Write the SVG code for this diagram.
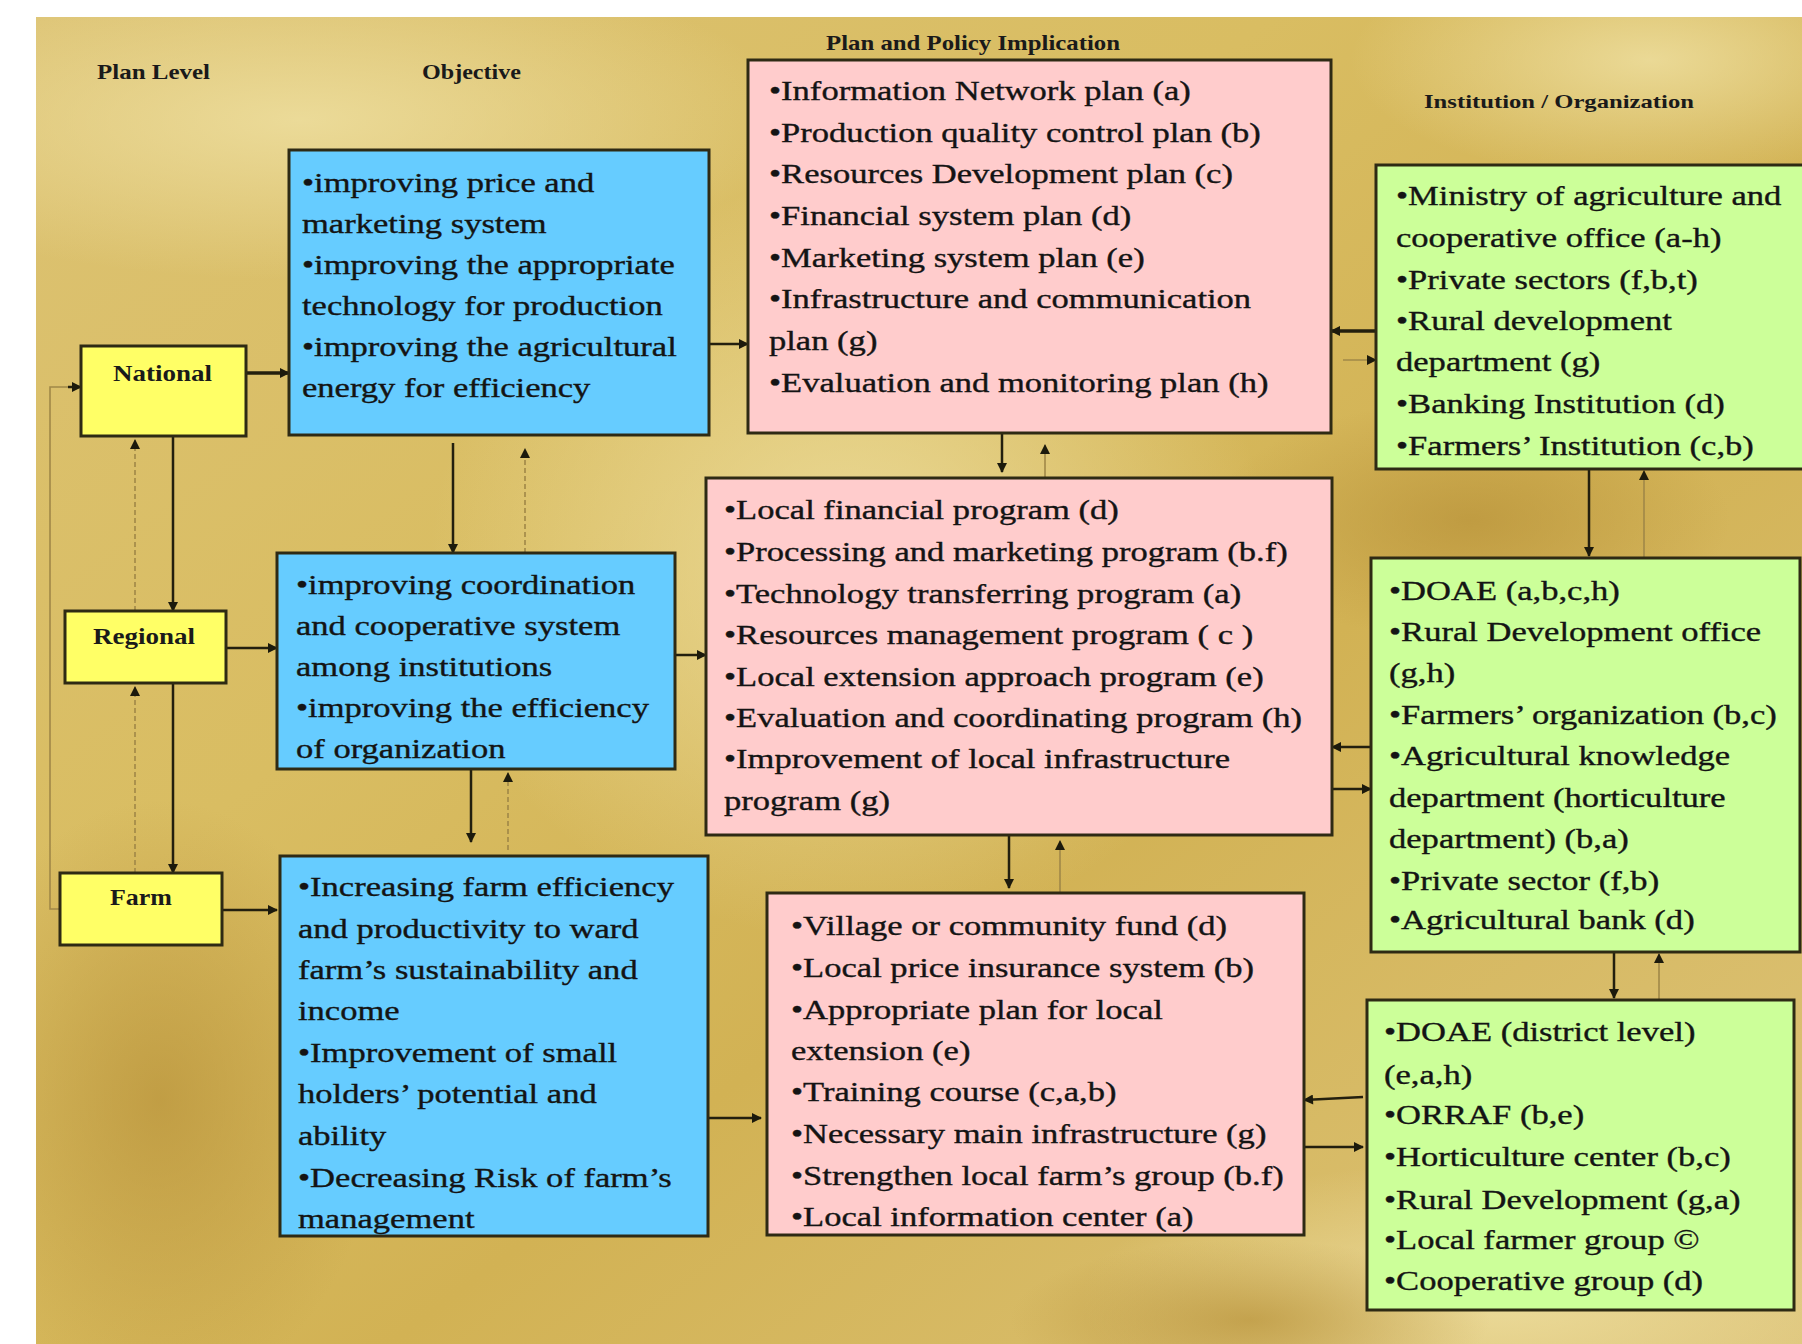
<svg xmlns="http://www.w3.org/2000/svg" width="1802" height="1344" viewBox="0 0 1802 1344">
<defs>
<clipPath id="bgClip"><rect x="36" y="17" width="1766" height="1327"/></clipPath>
<linearGradient id="bgBase" x1="0" y1="0" x2="1" y2="1">
<stop offset="0" stop-color="#DCC272"/>
<stop offset="0.35" stop-color="#D9BD62"/>
<stop offset="0.6" stop-color="#D2B254"/>
<stop offset="1" stop-color="#DDC47A"/>
</linearGradient>
<radialGradient id="spot1" cx="0.5" cy="0.5" r="0.5">
<stop offset="0" stop-color="#EEDFA0" stop-opacity="0.85"/>
<stop offset="1" stop-color="#EEDFA0" stop-opacity="0"/>
</radialGradient>
<radialGradient id="spot2" cx="0.5" cy="0.5" r="0.5">
<stop offset="0" stop-color="#B8923A" stop-opacity="0.7"/>
<stop offset="1" stop-color="#B8923A" stop-opacity="0"/>
</radialGradient>
<marker id="ah" viewBox="0 0 10 10" refX="9" refY="5" markerWidth="12" markerHeight="10" markerUnits="userSpaceOnUse" orient="auto">
<path d="M0,0 L10,5 L0,10 z" fill="#1c1a0c"/>
</marker>
<style>
.box{stroke:#2e2a14;stroke-width:3}
.yel{fill:#FFFF66}
.blu{fill:#66CCFF}
.pnk{fill:#FFCCCC}
.grn{fill:#CCFF99}
.t{font-family:"Liberation Serif","Times New Roman",serif;font-size:27px;fill:#141414;stroke:#141414;stroke-width:0.35}
.h{font-family:"Liberation Serif","Times New Roman",serif;font-weight:bold;fill:#1a1a1a}
.lbl{font-family:"Liberation Serif","Times New Roman",serif;font-weight:bold;font-size:24px;fill:#1a1a1a}
.c{fill:none;stroke:#231f0e;stroke-width:2.5}
.cb{fill:none;stroke:#231f0e;stroke-width:3.5}
.f{fill:none;stroke:#a08848;stroke-width:1.6;stroke-dasharray:5 3}
.fs{fill:none;stroke:#a08848;stroke-width:1.6}
</style>
</defs>
<rect x="0" y="0" width="1802" height="1344" fill="#ffffff"/>
<g id="background" clip-path="url(#bgClip)">
<rect x="36" y="17" width="1766" height="1327" fill="url(#bgBase)"/>
<ellipse cx="300" cy="120" rx="500" ry="160" fill="url(#spot1)"/>
<ellipse cx="850" cy="560" rx="420" ry="380" fill="url(#spot1)"/>
<ellipse cx="1650" cy="60" rx="300" ry="120" fill="url(#spot1)"/>
<ellipse cx="1500" cy="1300" rx="420" ry="140" fill="url(#spot1)"/>
<ellipse cx="160" cy="1100" rx="220" ry="300" fill="url(#spot2)"/>
<ellipse cx="1470" cy="520" rx="260" ry="120" fill="url(#spot2)"/>
<ellipse cx="1250" cy="1320" rx="240" ry="80" fill="url(#spot2)"/>
</g>
<g id="headers">
<text class="h" x="97" y="79" font-size="21" textLength="113" lengthAdjust="spacingAndGlyphs">Plan Level</text>
<text class="h" x="422" y="79" font-size="21" textLength="99" lengthAdjust="spacingAndGlyphs">Objective</text>
<text class="h" x="826" y="50" font-size="21" textLength="294" lengthAdjust="spacingAndGlyphs">Plan and Policy Implication</text>
<text class="h" x="1424" y="108" font-size="19" textLength="270" lengthAdjust="spacingAndGlyphs">Institution / Organization</text>
</g>
<g id="connectors">
<path class="fs" d="M60 909 H50 V387 H70"/>
<path class="c" d="M68 387 H81" marker-end="url(#ah)"/>
<path class="cb" d="M246 373 H289" marker-end="url(#ah)"/>
<path class="c" d="M173 436 V611" marker-end="url(#ah)"/>
<path class="f" d="M135 611 V440" marker-end="url(#ah)"/>
<path class="c" d="M226 648 H277" marker-end="url(#ah)"/>
<path class="c" d="M173 683 V873" marker-end="url(#ah)"/>
<path class="f" d="M135 873 V687" marker-end="url(#ah)"/>
<path class="c" d="M222 910 H277" marker-end="url(#ah)"/>
<path class="c" d="M453 443 V553" marker-end="url(#ah)"/>
<path class="f" d="M525 553 V449" marker-end="url(#ah)"/>
<path class="c" d="M471 769 V842" marker-end="url(#ah)"/>
<path class="f" d="M508 850 V773" marker-end="url(#ah)"/>
<path class="c" d="M710 344 H748" marker-end="url(#ah)"/>
<path class="c" d="M675 655 H706" marker-end="url(#ah)"/>
<path class="c" d="M708 1118 H761" marker-end="url(#ah)"/>
<path class="c" d="M1002 433 V472" marker-end="url(#ah)"/>
<path class="fs" d="M1045 478 V445" marker-end="url(#ah)"/>
<path class="c" d="M1009 835 V888" marker-end="url(#ah)"/>
<path class="fs" d="M1060 893 V841" marker-end="url(#ah)"/>
<path class="cb" d="M1376 331 H1331" marker-end="url(#ah)"/>
<path class="fs" d="M1343 360 H1376" marker-end="url(#ah)"/>
<path class="c" d="M1371 747 H1332" marker-end="url(#ah)"/>
<path class="c" d="M1332 789 H1371" marker-end="url(#ah)"/>
<path class="c" d="M1363 1097 L1304 1100" marker-end="url(#ah)"/>
<path class="c" d="M1304 1147 H1363" marker-end="url(#ah)"/>
<path class="c" d="M1589 469 V556" marker-end="url(#ah)"/>
<path class="fs" d="M1644 558 V471" marker-end="url(#ah)"/>
<path class="c" d="M1614 952 V998" marker-end="url(#ah)"/>
<path class="fs" d="M1659 1000 V954" marker-end="url(#ah)"/>
</g>
<g id="national">
<rect class="box yel" x="81" y="346" width="165" height="90"/>
<text class="lbl" x="113" y="381" textLength="99" lengthAdjust="spacingAndGlyphs">National</text>
</g>
<g id="regional">
<rect class="box yel" x="65" y="611" width="161" height="72"/>
<text class="lbl" x="93" y="644" textLength="102" lengthAdjust="spacingAndGlyphs">Regional</text>
</g>
<g id="farm">
<rect class="box yel" x="60" y="873" width="162" height="72"/>
<text class="lbl" x="110" y="905" textLength="62" lengthAdjust="spacingAndGlyphs">Farm</text>
</g>
<g id="objective-national">
<rect class="box blu" x="289" y="150" width="420" height="285"/>
<g transform="translate(302 0) scale(1.28 1)">
<text class="t" x="0" y="192">•improving price and</text>
<text class="t" x="0" y="233">marketing system</text>
<text class="t" x="0" y="274">•improving the appropriate</text>
<text class="t" x="0" y="315">technology for production</text>
<text class="t" x="0" y="356">•improving the agricultural</text>
<text class="t" x="0" y="397">energy for efficiency</text>
</g>
</g>
<g id="objective-regional">
<rect class="box blu" x="277" y="553" width="398" height="216"/>
<g transform="translate(296 0) scale(1.28 1)">
<text class="t" x="0" y="594">•improving coordination</text>
<text class="t" x="0" y="635">and cooperative system</text>
<text class="t" x="0" y="676">among institutions</text>
<text class="t" x="0" y="717">•improving the efficiency</text>
<text class="t" x="0" y="758">of organization</text>
</g>
</g>
<g id="objective-farm">
<rect class="box blu" x="280" y="856" width="428" height="380"/>
<g transform="translate(298 0) scale(1.28 1)">
<text class="t" x="0" y="896">•Increasing farm efficiency</text>
<text class="t" x="0" y="938">and productivity to ward</text>
<text class="t" x="0" y="979">farm’s sustainability and</text>
<text class="t" x="0" y="1020">income</text>
<text class="t" x="0" y="1062">•Improvement of small</text>
<text class="t" x="0" y="1103">holders’ potential and</text>
<text class="t" x="0" y="1145">ability</text>
<text class="t" x="0" y="1187">•Decreasing Risk of farm’s</text>
<text class="t" x="0" y="1228">management</text>
</g>
</g>
<g id="plan-national">
<rect class="box pnk" x="748" y="60" width="583" height="373"/>
<g transform="translate(769 0) scale(1.28 1)">
<text class="t" x="0" y="100">•Information Network plan (a)</text>
<text class="t" x="0" y="142">•Production quality control plan (b)</text>
<text class="t" x="0" y="183">•Resources Development plan (c)</text>
<text class="t" x="0" y="225">•Financial system plan (d)</text>
<text class="t" x="0" y="267">•Marketing system plan (e)</text>
<text class="t" x="0" y="308">•Infrastructure and communication</text>
<text class="t" x="0" y="350">plan (g)</text>
<text class="t" x="0" y="392">•Evaluation and monitoring plan (h)</text>
</g>
</g>
<g id="plan-regional">
<rect class="box pnk" x="706" y="478" width="626" height="357"/>
<g transform="translate(724 0) scale(1.28 1)">
<text class="t" x="0" y="519">•Local financial program (d)</text>
<text class="t" x="0" y="561">•Processing and marketing program (b.f)</text>
<text class="t" x="0" y="603">•Technology transferring program (a)</text>
<text class="t" x="0" y="644">•Resources management program ( c )</text>
<text class="t" x="0" y="686">•Local extension approach program (e)</text>
<text class="t" x="0" y="727">•Evaluation and coordinating program (h)</text>
<text class="t" x="0" y="768">•Improvement of local infrastructure</text>
<text class="t" x="0" y="810">program (g)</text>
</g>
</g>
<g id="plan-farm">
<rect class="box pnk" x="767" y="893" width="537" height="342"/>
<g transform="translate(791 0) scale(1.28 1)">
<text class="t" x="0" y="935">•Village or community fund (d)</text>
<text class="t" x="0" y="977">•Local price insurance system (b)</text>
<text class="t" x="0" y="1019">•Appropriate plan for local</text>
<text class="t" x="0" y="1060">extension (e)</text>
<text class="t" x="0" y="1101">•Training course (c,a,b)</text>
<text class="t" x="0" y="1143">•Necessary main infrastructure (g)</text>
<text class="t" x="0" y="1185">•Strengthen local farm’s group (b.f)</text>
<text class="t" x="0" y="1226">•Local information center (a)</text>
</g>
</g>
<g id="institution-national">
<rect class="box grn" x="1376" y="165" width="432" height="304"/>
<g transform="translate(1396 0) scale(1.28 1)">
<text class="t" x="0" y="205">•Ministry of agriculture and</text>
<text class="t" x="0" y="247">cooperative office (a-h)</text>
<text class="t" x="0" y="289">•Private sectors (f,b,t)</text>
<text class="t" x="0" y="330">•Rural development</text>
<text class="t" x="0" y="371">department (g)</text>
<text class="t" x="0" y="413">•Banking Institution (d)</text>
<text class="t" x="0" y="455">•Farmers’ Institution (c,b)</text>
</g>
</g>
<g id="institution-regional">
<rect class="box grn" x="1371" y="558" width="429" height="394"/>
<g transform="translate(1389 0) scale(1.28 1)">
<text class="t" x="0" y="600">•DOAE (a,b,c,h)</text>
<text class="t" x="0" y="641">•Rural Development office</text>
<text class="t" x="0" y="682">(g,h)</text>
<text class="t" x="0" y="724">•Farmers’ organization (b,c)</text>
<text class="t" x="0" y="765">•Agricultural knowledge</text>
<text class="t" x="0" y="807">department (horticulture</text>
<text class="t" x="0" y="848">department) (b,a)</text>
<text class="t" x="0" y="890">•Private sector (f,b)</text>
<text class="t" x="0" y="929">•Agricultural bank (d)</text>
</g>
</g>
<g id="institution-farm">
<rect class="box grn" x="1367" y="1000" width="427" height="310"/>
<g transform="translate(1384 0) scale(1.28 1)">
<text class="t" x="0" y="1041">•DOAE (district  level)</text>
<text class="t" x="0" y="1084">(e,a,h)</text>
<text class="t" x="0" y="1124">•ORRAF (b,e)</text>
<text class="t" x="0" y="1166">•Horticulture center (b,c)</text>
<text class="t" x="0" y="1209">•Rural Development (g,a)</text>
<text class="t" x="0" y="1249">•Local farmer group ©</text>
<text class="t" x="0" y="1290">•Cooperative group (d)</text>
</g>
</g>
</svg>
